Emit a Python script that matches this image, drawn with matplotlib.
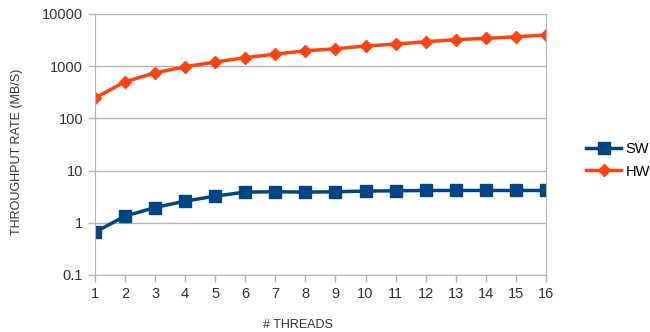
import matplotlib.pyplot as plt

threads = list(range(1, 17))
sw = [0.66, 1.34, 1.96, 2.6, 3.24, 3.87, 3.93, 3.87, 3.93, 4.05, 4.1, 4.16, 4.16, 4.16, 4.16, 4.16]
hw = [245, 500, 745, 975, 1200, 1450, 1700, 1970, 2150, 2430, 2640, 2940, 3220, 3400, 3650, 3950]
y_ticks = [0.1, 1, 10, 100, 1000, 10000]
y_labels = ["0.1", "1", "10", "100", "1000", "10000"]

plt.rcParams['font.family'] = ['Liberation Sans', 'DejaVu Sans']
grid_col = '#b3b3b3'

fig = plt.figure(figsize=(6.5, 3.32), dpi=100)
ax = fig.add_axes([0.146, 0.1717, 0.694, 0.7863])

ax.plot(threads, sw, color='#004586', lw=2.5, marker='s', ms=8, label='SW')
ax.plot(threads, hw, color='#ff420e', lw=2.5, marker='D', ms=6, label='HW')

ax.set_yscale('log')
ax.set_ylim(0.1, 10000)
ax.set_xlim(1, 16)
ax.set_yticks(y_ticks)
ax.set_yticklabels(y_labels)
ax.minorticks_off()
ax.set_xticks(threads)
ax.yaxis.grid(True, color=grid_col, lw=1)
ax.set_axisbelow(True)
for s in ax.spines.values():
    s.set_color(grid_col)
ax.spines['top'].set_visible(False)
ax.tick_params(colors=grid_col, labelcolor='#333333', labelsize=10.5, length=5, width=1)

ax.set_xlabel('# THREADS', fontsize=9, color='#333333', labelpad=12)
ax.xaxis.set_label_coords(0.45, -0.17)
ax.set_ylabel('THROUGHPUT RATE (MB/S)', fontsize=9, color='#333333', labelpad=10)
ax.yaxis.set_label_coords(-0.16, 0.47)

ax.legend(loc='center left', bbox_to_anchor=(1.06, 0.44), frameon=False,
          fontsize=10.5, handlelength=2.4, handletextpad=0.3, labelspacing=0.6)

fig.savefig('out.png', dpi=100)
